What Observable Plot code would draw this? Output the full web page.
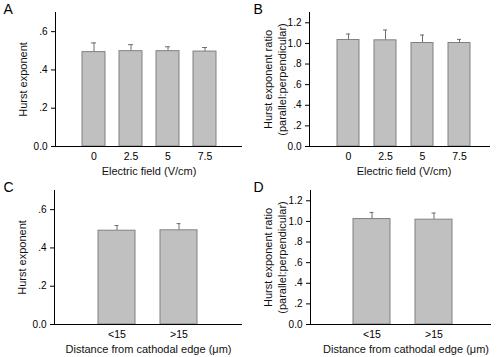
<!DOCTYPE html>
<html><head><meta charset="utf-8">
<script src="https://cdn.jsdelivr.net/npm/d3@7"></script>
<script src="https://cdn.jsdelivr.net/npm/@observablehq/plot@0.6"></script>
<style>
body{margin:0;background:#fff;}
#wrap{position:relative;width:500px;height:357px;font-family:"Liberation Sans",Arial,Helvetica,sans-serif;}
#wrap svg{position:absolute;}
</style></head><body><div id="wrap"></div>
<script>
const fieldCategories = ["0", "2.5", "5", "7.5"];
const hurstByField = [0.493, 0.498, 0.498, 0.496];
const hurstByFieldErr = [0.048, 0.034, 0.023, 0.021];
const ratioByField = [1.033, 1.030, 1.004, 1.004];
const ratioByFieldErr = [0.058, 0.100, 0.077, 0.035];
const distanceCategories = ["<15", ">15"];
const hurstByDistance = [0.490, 0.492];
const hurstByDistanceErr = [0.027, 0.035];
const ratioByDistance = [1.023, 1.017];
const ratioByDistanceErr = [0.064, 0.064];
const hurstTicks = [0, 0.2, 0.4, 0.6];
const ratioTicks = [0, 0.2, 0.4, 0.6, 0.8, 1.0, 1.2];

const FONT = '"Liberation Sans", Arial, Helvetica, sans-serif';
const fmt = d => d === 0 ? "0.0" : (d >= 1 ? d.toFixed(1) : d.toFixed(1).slice(1));

function panel(o) {
  const data = o.cats.map((c, i) => ({c, v: o.vals[i], e: o.vals[i] + o.errs[i]}));
  const p = Plot.plot({
    width: o.width, height: o.height,
    marginLeft: o.ml, marginRight: o.mr, marginTop: o.mt, marginBottom: o.mb,
    style: {fontFamily: FONT, fontSize: "10px", color: "#000", background: "transparent", overflow: "visible"},
    x: {domain: o.cats, paddingInner: o.pi, paddingOuter: o.po, align: o.align, label: null},
    y: {domain: [0, o.yMax], label: null},
    marks: [
      Plot.ruleX(data, {x: "c", y1: "v", y2: "e", stroke: "#6e6e6e", strokeWidth: 1}),
      Plot.tickY(data, {x: "c", y: "e", stroke: "#6e6e6e", strokeWidth: 1, insetLeft: o.capInset, insetRight: o.capInset}),
      Plot.barY(data, {x: "c", y: "v", fill: "#c0c0c0", stroke: "#808080", strokeWidth: 1}),
      Plot.axisY({ticks: o.ticks, tickFormat: fmt, tickSize: 4, tickPadding: 4, label: null, fontSize: 10}),
      Plot.axisX({tickSize: 0, tickPadding: 6, label: null, fontSize: 10.5}),
      Plot.frame({anchor: "left", stroke: "#000"}),
      Plot.ruleY([0], {stroke: "#000", strokeWidth: 1.2}),
      Plot.text([o.yLabel], {text: d => d, frameAnchor: "left", rotate: -90, dx: o.ylabDx, textAnchor: "middle", lineAnchor: "middle", fontSize: 11, lineHeight: 1.3, fill: "#111"}),
      Plot.text([o.xLabel], {text: d => d, frameAnchor: "bottom", dx: o.xlabDx || 0, dy: 25, lineAnchor: "middle", fontSize: 11, fill: "#111"}),
      Plot.text([o.letter], {text: d => d, frameAnchor: "top-left", dx: 3 - o.ml, dy: -8, textAnchor: "start", lineAnchor: "top", fontSize: 14, fill: "#000"})
    ]
  });
  p.style.left = o.left + "px";
  p.style.top = o.top + "px";
  document.getElementById("wrap").appendChild(p);
}

panel({letter: "A", cats: fieldCategories, vals: hurstByField, errs: hurstByFieldErr, ticks: hurstTicks, yMax: 0.7,
  xLabel: "Electric field (V/cm)", yLabel: "Hurst exponent",
  left: 0, top: 0, width: 250, height: 178, ml: 55, mr: 8, mt: 12, mb: 32,
  pi: 0.385, po: 0.69, align: 0.5, capInset: 9, ylabDx: -33});

panel({letter: "B", cats: fieldCategories, vals: ratioByField, errs: ratioByFieldErr, ticks: ratioTicks, yMax: 1.3,
  xLabel: "Electric field (V/cm)", yLabel: "Hurst exponent ratio\n(parallel:perpendicular)",
  left: 250, top: 0, width: 250, height: 178, ml: 59, mr: 10, mt: 12, mb: 32,
  pi: 0.397, po: 0.613, align: 0.58, capInset: 9, ylabDx: -35, xlabDx: 4});

panel({letter: "C", cats: distanceCategories, vals: hurstByDistance, errs: hurstByDistanceErr, ticks: hurstTicks, yMax: 0.7,
  xLabel: "Distance from cathodal edge (μm)", yLabel: "Hurst exponent",
  left: 0, top: 178, width: 250, height: 179, ml: 54, mr: 8, mt: 12, mb: 33,
  pi: 0.397, po: 0.71, align: 0.5, capInset: 16.5, ylabDx: -33});

panel({letter: "D", cats: distanceCategories, vals: ratioByDistance, errs: ratioByDistanceErr, ticks: ratioTicks, yMax: 1.3,
  xLabel: "Distance from cathodal edge (μm)", yLabel: "Hurst exponent ratio\n(parallel:perpendicular)",
  left: 250, top: 178, width: 250, height: 179, ml: 60, mr: 9, mt: 12, mb: 33,
  pi: 0.4, po: 0.642, align: 0.53, capInset: 16.5, ylabDx: -36, xlabDx: 5});
</script></body></html>
